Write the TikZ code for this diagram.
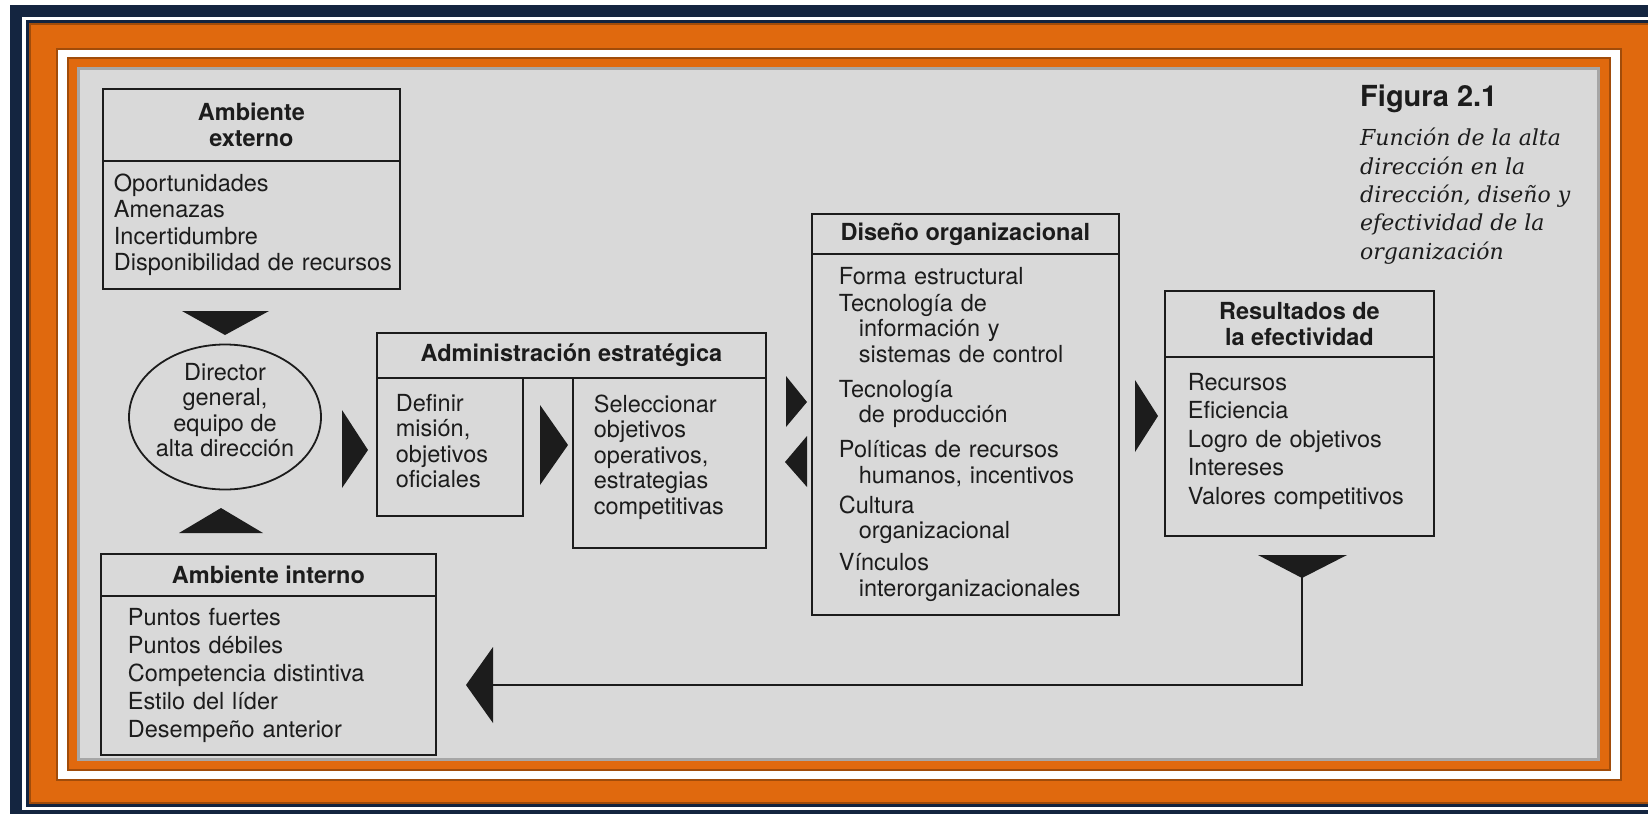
\documentclass[tikz,border=0pt]{standalone}
\usepackage{fontspec}
\setsansfont{TeX Gyre Heros}
\newfontfamily\capfont{DejaVu Serif}
\usetikzlibrary{shapes.geometric}
\definecolor{ink}{RGB}{28,28,28}
\definecolor{navy}{RGB}{20,37,64}
\definecolor{orng}{RGB}{224,105,14}
\definecolor{paper}{RGB}{217,217,217}
\begin{document}
\begin{tikzpicture}[
            x = 1pt, y = -1pt,
            every node/.style={inner sep=0pt, text=ink},
            box/.style={draw=ink, line width=1.8pt, anchor=north west},
            head/.style={box, align=center, font=\sffamily\bfseries\fontsize{23.5}{26.5}\selectfont},
            body/.style={box, align=left, font=\sffamily\fontsize{23.5}{#1}\selectfont},
            tip/.style={fill=ink},
            line/.style={draw=ink, line width=1.8pt},
            bevel/.style={draw=orng!72!black, line width=2.5pt},
            ]
        \useasboundingbox[fill=white] (0,0) rectangle (1648,814);
        \fill[navy] (10,5) rectangle (1648,814);
        \fill[white] (22,17) rectangle (1648,810);
        \fill[navy] (26,20) rectangle (1648,807);
        \fill[orng] (29,23) rectangle (1660,804);
        \draw[bevel] (30.2,24.2) rectangle (1660,802.8);
        \draw[bevel] (56.8,48.8) rectangle (1621.2,780.2);
        \fill[white] (58,50) rectangle (1620,779);
        \fill[orng] (67,57) rectangle (1611,771);
        \draw[bevel] (68.2,58.2) rectangle (1609.8,769.8);
        \fill[paper] (77,67) rectangle (1600,761);
        \draw[black!35, line width=3pt] (78.5,68.5) rectangle (1598.5,759.5);

        \node[head, minimum width=297pt, minimum height=72pt] (exth) at (102,88) {Ambiente\\externo};
        \node[body=26.5, minimum height=128pt, text width=275pt, inner xsep=11pt] (extb) at (102,160) {Oportunidades\\Amenazas\\Incertidumbre\\\mbox{Disponibilidad de recursos}};

        \node[ellipse, line, minimum width=192pt, minimum height=145pt, inner sep=-12pt, text depth=14pt, align=center, font=\sffamily\fontsize{23.5}{25.5}\selectfont] (dir) at (225,417) {Director\\general,\\equipo de\\alta dirección};

        \node[head, minimum width=389pt, minimum height=45pt] (admh) at (376,332) {Administración estratégica};
        \node[body=25.5, minimum height=138pt, text width=108pt, inner xsep=19pt, text depth=88.5pt] (def) at (376,377) {Definir\\misión,\\objetivos\\oficiales};
        \node[body=25.5, minimum height=170pt, text width=151pt, inner xsep=21pt, text depth=119pt] (sel) at (572,377) {Seleccionar\\objetivos\\operativos,\\estrategias\\competitivas};

        \node[head, minimum width=307pt, minimum height=40pt] (dish) at (811,213) {Diseño organizacional};
        \node[body=25.5, minimum height=361pt, text width=253pt, inner xsep=27pt] (disb) at (811,253) {Forma estructural\\[1.5pt]
            Tecnología de\\\hspace*{20pt}información y\\\hspace*{20pt}sistemas de control\\[9.5pt]
            Tecnología\\\hspace*{20pt}de producción\\[9.5pt]
            Políticas de recursos\\\hspace*{20pt}humanos, incentivos\\[4.5pt]
            Cultura\\\hspace*{20pt}organizacional\\[6.5pt]
            Vínculos\\\hspace*{20pt}interorganizacionales};

        \node[head, minimum width=269pt, minimum height=66pt] (resh) at (1164,290) {Resultados de\\la efectividad};
        \node[body=28.5, minimum height=179pt, text width=223pt, inner xsep=23pt, text depth=129pt] (resb) at (1164,356) {Recursos\\Eficiencia\\Logro de objetivos\\Intereses\\Valores competitivos};

        \node[head, minimum width=335pt, minimum height=42pt] (inth) at (100,553) {Ambiente interno};
        \node[body=28, minimum height=159pt, text width=281pt, inner xsep=27pt] (intb) at (100,595) {Puntos fuertes\\Puntos débiles\\Competencia distintiva\\Estilo del líder\\Desempeño anterior};

        \node[anchor=base west, font=\sffamily\bfseries\fontsize{29}{32}\selectfont] (figt) at (1360,106) {Figura 2.1};
        \node[anchor=north west, align=left, font=\capfont\itshape\fontsize{22}{28.3}\selectfont] (figc) at (1360,128) {Función de la alta\\dirección en la\\dirección, diseño y\\efectividad de la\\organización};

        \fill[tip] (182,311) -- ++(87,0) -- ++(-44,24) -- cycle;
        \fill[tip] (179,533) -- ++(84,0) -- ++(-42,-25) -- cycle;
        \fill[tip] (342,410) -- ++(0,78) -- ++(26,-38) -- cycle;
        \fill[tip] (540,405) -- ++(0,80) -- ++(28,-40) -- cycle;
        \fill[tip] (786,376) -- ++(0,51) -- ++(21,-25) -- cycle;
        \fill[tip] (807,436) -- ++(0,51) -- ++(-22,-25) -- cycle;
        \fill[tip] (1135,380) -- ++(0,72) -- ++(23,-36) -- cycle;
        \fill[tip] (1258,555) -- ++(89,0) -- ++(-45,23) -- cycle;
        \fill[tip] (493,647) -- ++(0,76) -- ++(-27,-38) -- cycle;

        \coordinate (fbs) at (1302,570);
        \coordinate (fbe) at (493,685);
        \draw[line] (fbs) |- (fbe);
    \end{tikzpicture}
\end{document}
